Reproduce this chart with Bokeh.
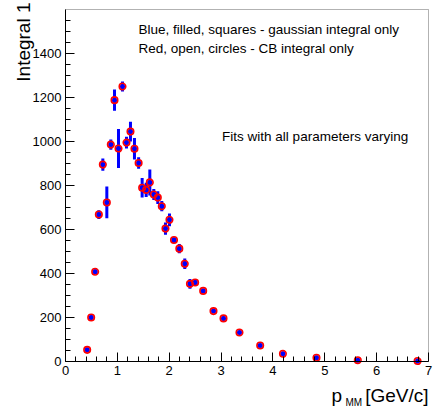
import math

from bokeh.embed import file_html
from bokeh.models import (BoxAnnotation, ColumnDataSource, FixedTicker, Label,
                          Range1d)
from bokeh.plotting import figure
from bokeh.resources import INLINE

# Fitted yield per momentum bin (missing-mass momentum, GeV/c)
p_mm = [0.418, 0.495, 0.572, 0.643, 0.720, 0.797, 0.874, 0.945, 1.022, 1.099,
        1.176, 1.253, 1.330, 1.410, 1.478, 1.556, 1.626, 1.703, 1.780, 1.857,
        1.928, 2.005, 2.092, 2.195, 2.300, 2.400, 2.500, 2.655, 2.854, 3.047,
        3.355, 3.754, 4.193, 4.840, 5.637, 6.790]
integral = [53, 200, 408, 668, 895, 723, 986, 1188, 968, 1250,
            995, 1045, 967, 902, 790, 780, 814, 759, 745, 706,
            604, 644, 552, 513, 444, 353, 359, 321, 229, 196,
            132, 73, 35, 17, 6, 2]
integral_err = [8, 9, 10, 20, 28, 72, 23, 48, 89, 23,
                27, 45, 49, 26, 44, 32, 59, 25, 29, 23,
                28, 29, 12, 21, 24, 22, 12, 10, 8, 8,
                7, 6, 5, 4, 3, 2]

x_major = [0, 1, 2, 3, 4, 5, 6, 7]
y_major = [0, 200, 400, 600, 800, 1000, 1200, 1400]
x_lim = (0, 7)
y_lim = (0, 1600)

FONT = "Liberation Sans"

# canvas geometry (pixels): the pad box sits inside these margins
W, H = 433, 407
PAD_L, PAD_R, PAD_T, PAD_B = 65, 5, 9, 46
sx = (W - PAD_L - PAD_R) / (x_lim[1] - x_lim[0])
sy = (H - PAD_T - PAD_B) / (y_lim[1] - y_lim[0])

src = ColumnDataSource(dict(
    x=p_mm,
    y=integral,
    lo=[v - e for v, e in zip(integral, integral_err)],
    hi=[v + e for v, e in zip(integral, integral_err)],
))

p = figure(width=W, height=H, output_backend="svg", toolbar_location=None,
           x_range=Range1d(x_lim[0] - PAD_L / sx, x_lim[1] + PAD_R / sx),
           y_range=Range1d(y_lim[0] - PAD_B / sy, y_lim[1] + PAD_T / sy))
p.min_border = 0
p.background_fill_color = "white"
p.border_fill_color = "white"
p.outline_line_color = None
p.grid.visible = False

# ROOT-style axes pinned to the pad corner, ticks pointing inward
p.xaxis.fixed_location = y_lim[0]
p.yaxis.fixed_location = x_lim[0]
p.xaxis.bounds = x_lim
p.yaxis.bounds = y_lim
p.xaxis.ticker = FixedTicker(
    ticks=x_major,
    minor_ticks=[round(i * 0.2, 1) for i in range(36) if i % 5 != 0])
p.yaxis.ticker = FixedTicker(
    ticks=y_major,
    minor_ticks=[i * 50 for i in range(33) if i % 4 != 0])
for ax in (p.xaxis, p.yaxis):
    ax.major_tick_in = 9
    ax.major_tick_out = 0
    ax.minor_tick_in = 5
    ax.minor_tick_out = 0
    ax.axis_line_color = "black"
    ax.major_tick_line_color = "black"
    ax.minor_tick_line_color = "black"
    ax.major_label_text_font = FONT
    ax.major_label_text_font_size = "13px"
    ax.major_label_text_color = "black"
    ax.major_label_standoff = 4

# pad box
p.add_layout(BoxAnnotation(left=x_lim[0], right=x_lim[1],
                           bottom=y_lim[0], top=y_lim[1],
                           fill_color=None, line_color="black", line_width=1))

# error bars, then the two overlaid marker sets
p.segment(x0="x", y0="lo", x1="x", y1="hi", source=src,
          line_color="#0000ff", line_width=3)
p.scatter(x="x", y="y", source=src, marker="circle", size=5,
          fill_color="#0000ff", line_color="#0000ff", line_width=0.5)
p.scatter(x="x", y="y", source=src, marker="circle", size=6.5,
          fill_color=None, line_color="#ff0000", line_width=1.6)

# text annotations inside the pad
for txt, xx, yy in [
    ("Blue, filled, squares - gaussian integral only", 1.408, 1508),
    ("Red, open, circles - CB integral only", 1.408, 1425),
    ("Fits with all parameters varying", 3.02, 1023),
]:
    p.add_layout(Label(x=xx, y=yy, text=txt, text_font=FONT,
                       text_font_size="13.5px", text_baseline="middle",
                       text_color="black"))

# axis titles
p.add_layout(Label(x=x_lim[0] - 42 / sx, y=y_lim[1] + 7 / sy,
                   text="Integral 1", angle=math.pi / 2,
                   text_align="right", text_baseline="alphabetic",
                   text_font=FONT, text_font_size="19px", text_color="black"))
p.add_layout(Label(x=x_lim[1] - 97 / sx, y=y_lim[0] - 34 / sy,
                   text="p", text_align="left",
                   text_baseline="alphabetic", text_font=FONT,
                   text_font_size="19px", text_color="black"))
p.add_layout(Label(x=x_lim[1] - 83 / sx, y=y_lim[0] - 41 / sy,
                   text="MM", text_align="left",
                   text_baseline="alphabetic", text_font=FONT,
                   text_font_size="10px", text_color="black"))
p.add_layout(Label(x=x_lim[1], y=y_lim[0] - 34 / sy,
                   text="[GeV/c]", text_align="right",
                   text_baseline="alphabetic", text_font=FONT,
                   text_font_size="19px", text_color="black"))

open("out.html", "w").write(file_html(p, INLINE))
